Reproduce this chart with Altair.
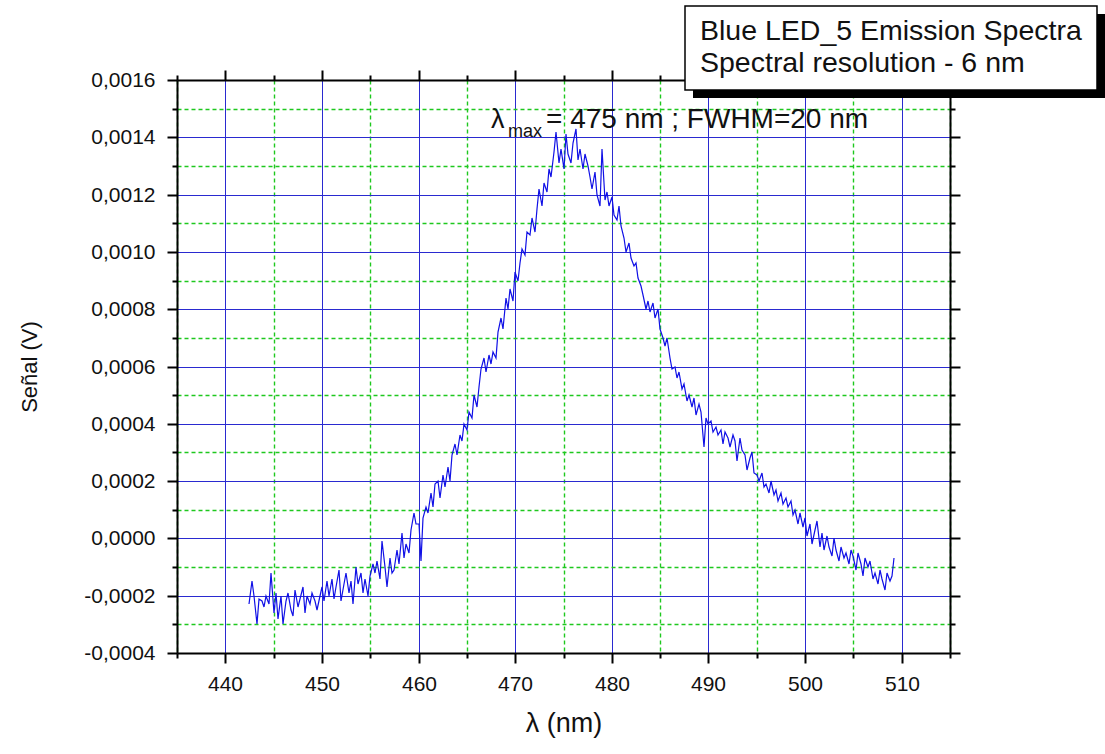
import altair as alt
import pandas as pd

# ---- data (signal in units of 1e-4 V, sampled every 0.25 nm from 442.5 nm) ----
start_nm = 442.5
step_nm = 0.25
signal_e4 = [
    -2.3, -1.5, -2.0, -3.0, -2.1, -2.2, -2.4, -2.0, -2.3, -1.2,
    -2.6, -1.9, -2.8, -2.0, -3.0, -2.2, -1.9, -2.5, -2.7, -1.8,
    -2.4, -2.1, -1.7, -2.6, -2.0, -2.3, -1.9, -2.2, -2.5, -2.0,
    -1.7, -2.2, -1.5, -2.0, -1.4, -2.1, -1.7, -1.1, -2.2, -1.6,
    -1.2, -1.9, -1.5, -2.3, -1.0, -1.6, -1.2, -1.9, -1.4, -2.0,
    -1.3, -0.9, -1.2, -0.8, -1.4, -0.1, -1.0, -1.7, -0.7, -1.2,
    -1.1, -0.4, -0.9, 0.2, -0.7, -0.2, -0.5, 0.3, 0.9, 0.5,
    0.5, -0.8, 0.7, 1.1, 0.9, 1.6, 1.1, 1.9, 2.0, 1.4,
    2.2, 1.8, 2.5, 2.0, 2.9, 3.3, 2.9, 3.6, 3.4, 4.0,
    3.8, 4.4, 4.2, 5.0, 4.6, 5.3, 5.9, 6.3, 5.8, 6.4,
    6.1, 6.5, 6.3, 7.2, 7.7, 7.3, 8.4, 8.0, 8.7, 8.3,
    9.3, 9.0, 9.6, 10.1, 9.9, 10.7, 10.6, 11.2, 10.7, 11.5,
    12.2, 11.6, 12.4, 12.1, 12.9, 12.6, 13.5, 14.2, 13.1, 13.6,
    12.9, 14.1, 13.4, 13.1, 13.8, 14.3, 13.2, 13.6, 12.9, 13.4,
    13.0, 12.6, 12.2, 12.8, 12.0, 11.6, 13.6, 11.8, 12.1, 11.6,
    11.9, 11.3, 11.1, 11.6, 10.9, 10.5, 10.0, 10.3, 9.8, 9.5,
    9.6, 9.1, 8.8, 8.5, 8.0, 8.3, 7.9, 8.2, 7.7, 8.0,
    7.3, 7.0, 6.7, 7.0, 6.3, 5.9, 6.0, 5.6, 5.8, 5.2,
    5.4, 4.8, 5.0, 4.6, 4.9, 4.3, 4.7, 4.4, 3.2, 4.2,
    4.0, 4.1, 3.7, 3.9, 3.6, 3.8, 3.3, 3.7, 3.5, 3.2,
    3.6, 3.4, 2.7, 3.5, 3.1, 2.9, 2.4, 2.8, 3.0, 2.3,
    2.2, 2.0, 2.3, 1.8, 1.9, 1.6, 2.0, 1.5, 1.7, 1.3,
    1.6, 1.2, 1.4, 1.1, 1.3, 0.8, 1.0, 0.5, 0.9, 0.4,
    0.7, 0.1, 0.5, -0.2, 0.3, 0.6, -0.3, 0.2, -0.4, 0.1,
    -0.3, -0.6, 0.0, -0.4, -0.8, -0.3, -0.7, -0.5, -0.9, -0.4,
    -0.6, -1.1, -0.5, -0.9, -1.3, -0.7, -1.0, -0.8, -1.4, -1.2,
    -1.6, -1.1, -1.4, -1.8, -1.2, -1.5, -1.3, -0.7,
]
wavelength = [start_nm + step_nm * i for i in range(len(signal_e4))]
signal_v = [v * 1e-4 for v in signal_e4]

x_ticks = [435, 440, 445, 450, 455, 460, 465, 470, 475, 480, 485, 490, 495, 500, 505, 510, 515]
y_ticks = [-0.0004, -0.0003, -0.0002, -0.0001, 0.0, 0.0001, 0.0002, 0.0003, 0.0004,
           0.0005, 0.0006, 0.0007, 0.0008, 0.0009, 0.0010, 0.0011, 0.0012, 0.0013,
           0.0014, 0.0015, 0.0016]

box_lines = ["Blue LED_5 Emission Spectra", "Spectral resolution - 6 nm"]
anno_lambda = "λ"
anno_sub = "max"
anno_rest = "= 475 nm ; FWHM=20 nm"

df = pd.DataFrame({"wavelength": wavelength, "signal": signal_v})

FONT = "Liberation Sans"
W, H = 773, 573
MAJOR_BLUE = "#2a2ad0"
MINOR_GREEN = "#1ec81e"

x_major = "datum.value % 10 === 0"
y_major = "round(datum.value * 10000) % 2 === 0"

x_scale = alt.Scale(domain=[435, 515], nice=False, zero=False, round=True)
y_scale = alt.Scale(domain=[-0.0004, 0.0016], nice=False, zero=False, round=True)

x_axis = alt.Axis(
    values=x_ticks,
    grid=True,
    gridColor={"condition": {"test": x_major, "value": MAJOR_BLUE}, "value": MINOR_GREEN},
    gridDash={"condition": {"test": x_major, "value": []}, "value": [4, 3]},
    gridWidth={"condition": {"test": x_major, "value": 1}, "value": 1.4},
    gridOpacity=1,
    tickSize={"condition": {"test": x_major, "value": 10}, "value": 5},
    tickColor="black", tickWidth=2,
    domainColor="black", domainWidth=2,
    labelExpr=x_major + " ? format(datum.value, 'd') : ''",
    labelFont=FONT, labelFontSize=21, labelColor="#111111", labelPadding=10,
    title="λ (nm)", titleFont=FONT, titleFontSize=27, titleFontWeight="normal",
    titleColor="#111111", titleY=70, titleBaseline="middle",
)
y_axis = alt.Axis(
    values=y_ticks,
    grid=True,
    gridColor={"condition": {"test": y_major, "value": MAJOR_BLUE}, "value": MINOR_GREEN},
    gridDash={"condition": {"test": y_major, "value": []}, "value": [4, 3]},
    gridWidth={"condition": {"test": y_major, "value": 1}, "value": 1.4},
    gridOpacity=1,
    tickSize={"condition": {"test": y_major, "value": 10}, "value": 5},
    tickColor="black", tickWidth=2,
    domainColor="black", domainWidth=2,
    labelExpr=y_major + " ? (datum.value < -1e-9 ? '-' : '') + replace(format(abs(datum.value), '.4f'), '.', ',') : ''",
    labelFont=FONT, labelFontSize=21, labelColor="#111111", labelPadding=12,
    title="Señal (V)", titleFont=FONT, titleFontSize=22, titleFontWeight="normal",
    titleColor="#111111", titleX=-148, titleBaseline="middle",
)

line = alt.Chart(df).mark_line(color="#1010e6", strokeWidth=1.2).encode(
    x=alt.X("wavelength:Q", scale=x_scale, axis=x_axis),
    y=alt.Y("signal:Q", scale=y_scale, axis=y_axis),
)

x_axis_top = alt.Axis(
    orient="top", values=x_ticks, grid=False, labels=False, title=None,
    tickSize={"condition": {"test": x_major, "value": 10}, "value": 5},
    tickColor="black", tickWidth=2, domainColor="black", domainWidth=2,
)
y_axis_right = alt.Axis(
    orient="right", values=y_ticks, grid=False, labels=False, title=None,
    tickSize={"condition": {"test": y_major, "value": 10}, "value": 5},
    tickColor="black", tickWidth=2, domainColor="black", domainWidth=2,
)
frame = alt.Chart(df).mark_line(strokeOpacity=0).encode(
    x=alt.X("wavelength:Q", scale=x_scale, axis=x_axis_top),
    y=alt.Y("signal:Q", scale=y_scale, axis=y_axis_right),
)

box_df = pd.DataFrame({"k": ["box"]})
shadow = alt.Chart(box_df).mark_rect(color="black").encode(
    x=alt.value(516), x2=alt.value(928), y=alt.value(-66), y2=alt.value(18)
)
box = alt.Chart(box_df).mark_rect(fill="white", stroke="black", strokeWidth=1.5).encode(
    x=alt.value(508), x2=alt.value(920), y=alt.value(-74), y2=alt.value(10)
)
box_text1 = alt.Chart(pd.DataFrame({"t": [box_lines[0]]})).mark_text(
    align="left", baseline="alphabetic", font=FONT, fontSize=28.5, color="#111111"
).encode(text="t:N", x=alt.value(523), y=alt.value(-40))
box_text2 = alt.Chart(pd.DataFrame({"t": [box_lines[1]]})).mark_text(
    align="left", baseline="alphabetic", font=FONT, fontSize=28.5, color="#111111"
).encode(text="t:N", x=alt.value(523), y=alt.value(-8))

a1 = alt.Chart(pd.DataFrame({"t": [anno_lambda]})).mark_text(
    align="left", baseline="alphabetic", font=FONT, fontSize=27, color="#111111"
).encode(text="t:N", x=alt.value(314), y=alt.value(48))
a2 = alt.Chart(pd.DataFrame({"t": [anno_sub]})).mark_text(
    align="left", baseline="alphabetic", font=FONT, fontSize=18, color="#111111"
).encode(text="t:N", x=alt.value(331), y=alt.value(57))
a3 = alt.Chart(pd.DataFrame({"t": [anno_rest]})).mark_text(
    align="left", baseline="alphabetic", font=FONT, fontSize=28, color="#111111"
).encode(text="t:N", x=alt.value(369), y=alt.value(48))

chart = alt.layer(line, frame, a1, a2, a3, shadow, box, box_text1, box_text2).resolve_axis(
    x="independent", y="independent"
).properties(
    width=W, height=H,
    padding={"left": 177, "top": 80, "right": 155, "bottom": 101},
    autosize=alt.AutoSizeParams(type="none"),
    background="white",
).configure_view(stroke=None)

chart.save("out.html", embed_options={"renderer": "svg", "actions": False})
